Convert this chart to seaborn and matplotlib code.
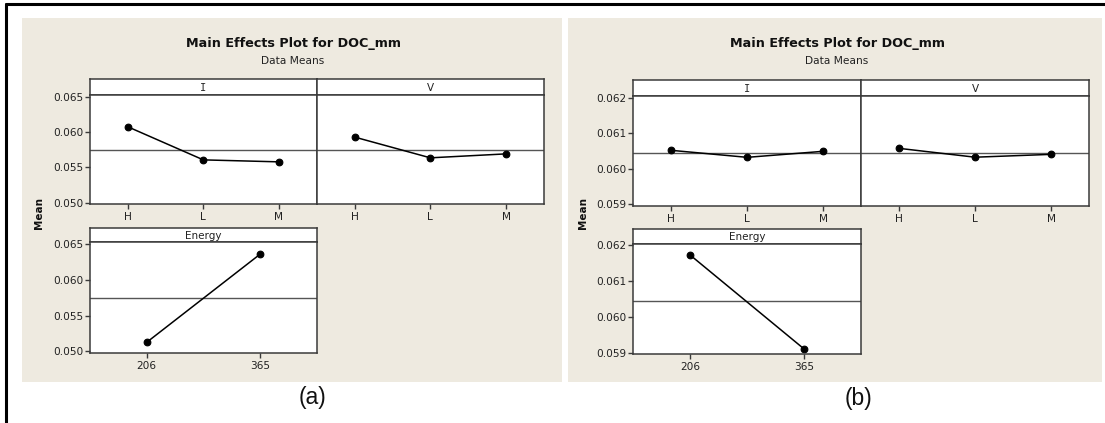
import numpy as np
import matplotlib
matplotlib.use("Agg")
import matplotlib.pyplot as plt
from matplotlib.patches import Rectangle
from matplotlib.lines import Line2D
import seaborn as sns

# ---------------- data ----------------
levels_IV = ["H", "L", "M"]
levels_energy = ["206", "365"]

a_I = [0.06074, 0.05605, 0.05577]
a_V = [0.05928, 0.05634, 0.05690]
a_energy = [0.05125, 0.06357]
a_mean = 0.05746

b_I = [0.060524, 0.060326, 0.060496]
b_V = [0.060580, 0.060330, 0.060410]
b_energy = [0.061730, 0.059101]
b_mean = 0.060446

a_yticks = [0.050, 0.055, 0.060, 0.065]
b_yticks = [0.059, 0.060, 0.061, 0.062]

title_text = "Main Effects Plot for DOC_mm"
subtitle_text = "Data Means"

# ---------------- style ----------------
sns.set_style("ticks")
plt.rcParams["font.family"] = ["DejaVu Sans"]

W, H = 1105, 423
DPI = 100
fig = plt.figure(figsize=(W / DPI, H / DPI), dpi=DPI, facecolor="white")

TAN = "#EEEAE0"
SPINE = "#3a3a3a"


def rect(x0, y0, x1, y1):
    return [x0 / W, 1 - y1 / H, (x1 - x0) / W, (y1 - y0) / H]


def fx(x):
    return x / W


def fy(y):
    return 1 - y / H


def style_spines(ax):
    for s in ax.spines.values():
        s.set_color(SPINE)
        s.set_linewidth(1.1)
        s.set_visible(True)


def strip(box, label):
    ax = fig.add_axes(rect(*box))
    ax.set_facecolor("white")
    ax.set_xticks([])
    ax.set_yticks([])
    style_spines(ax)
    fam = ["DejaVu Sans Mono"] if label == "I" else ["DejaVu Sans"]
    ax.text(0.5, 0.45, label, transform=ax.transAxes, ha="center",
            va="center", fontsize=7.5, color="#222222", family=fam)
    return ax


def panel(box, levels, values, mean, ylim, yticks, show_y):
    ax = fig.add_axes(rect(*box))
    ax.set_facecolor("white")
    ax.axhline(mean, color="#555555", lw=1.0, zorder=1)
    sns.pointplot(x=levels, y=values, order=levels, color="black",
                  errorbar=None, markers="o", markersize=4.8,
                  linewidth=1.1, ax=ax)
    ax.set_ylim(*ylim)
    ax.set_xlim(-0.5, len(levels) - 0.5)
    ax.set_xlabel("")
    ax.set_ylabel("")
    style_spines(ax)
    ax.tick_params(axis="x", direction="out", length=3.5, width=1.0,
                   color=SPINE, labelsize=7.6, pad=2.5, labelcolor="#222222")
    if show_y:
        ax.set_yticks(yticks)
        ax.set_yticklabels([f"{t:.3f}" for t in yticks])
        ax.tick_params(axis="y", direction="out", length=3.5, width=1.0,
                       color=SPINE, labelsize=7.6, pad=1.5,
                       labelcolor="#222222")
    else:
        ax.set_yticks([])
    return ax


def main_effects(bg, centre_x, ylab_x, ylab_y, boxes, data, mean, ylim,
                 yticks, tag, tag_xy):
    fig.patches.append(Rectangle((fx(bg[0]), fy(bg[3])),
                                 (bg[2] - bg[0]) / W, (bg[3] - bg[1]) / H,
                                 transform=fig.transFigure, facecolor=TAN,
                                 edgecolor="none", zorder=-5))
    fig.text(fx(centre_x), fy(43.5), title_text, ha="center", va="center",
             fontsize=9.2, fontweight="bold", color="#111111")
    fig.text(fx(centre_x), fy(60.5), subtitle_text, ha="center", va="center",
             fontsize=7.7, color="#222222")
    fig.text(fx(ylab_x), fy(ylab_y), "Mean", ha="center", va="center",
             rotation=90, fontsize=7.5, fontweight="bold", color="#111111")
    (sI, dI), (sV, dV), (sE, dE) = boxes
    vI, vV, vE = data
    strip(sI, "I")
    panel(dI, levels_IV, vI, mean, ylim, yticks, True)
    strip(sV, "V")
    panel(dV, levels_IV, vV, mean, ylim, yticks, False)
    strip(sE, "Energy")
    panel(dE, levels_energy, vE, mean, ylim, yticks, True)
    fig.text(fx(tag_xy[0]), fy(tag_xy[1]), tag, ha="center", va="center",
             fontsize=16.5, family=["Liberation Sans", "DejaVu Sans"],
             color="#111111")


main_effects(
    bg=(21.7, 18.3, 561.7, 381.7), centre_x=293, ylab_x=39.3, ylab_y=213.3,
    boxes=(((90, 79, 316.7, 95), (90, 95, 316.7, 204)),
           ((316.7, 79, 544, 95), (316.7, 95, 544, 204)),
           ((90, 228.3, 316.7, 242.3), (90, 242.3, 316.7, 352.7))),
    data=(a_I, a_V, a_energy), mean=a_mean, ylim=(0.0498, 0.06524),
    yticks=a_yticks, tag="(a)", tag_xy=(313, 397))

main_effects(
    bg=(568.3, 18.3, 1102, 381.7), centre_x=837, ylab_x=582.7, ylab_y=213.3,
    boxes=(((633.3, 80, 861, 96.3), (633.3, 96.3, 861, 205.7)),
           ((861, 80, 1089, 96.3), (861, 96.3, 1089, 205.7)),
           ((633.3, 229, 861, 243.7), (633.3, 243.7, 861, 354))),
    data=(b_I, b_V, b_energy), mean=b_mean, ylim=(0.05896, 0.06205),
    yticks=b_yticks, tag="(b)", tag_xy=(858, 398))

# outer frame lines (top and left)
fig.add_artist(Line2D([fx(5.7), 1.0], [fy(4), fy(4)],
                      transform=fig.transFigure, color="black", lw=2.2))
fig.add_artist(Line2D([fx(5.7), fx(5.7)], [fy(4), 0.0],
                      transform=fig.transFigure, color="black", lw=2.2))

fig.savefig("out.png", dpi=DPI, facecolor="white")
